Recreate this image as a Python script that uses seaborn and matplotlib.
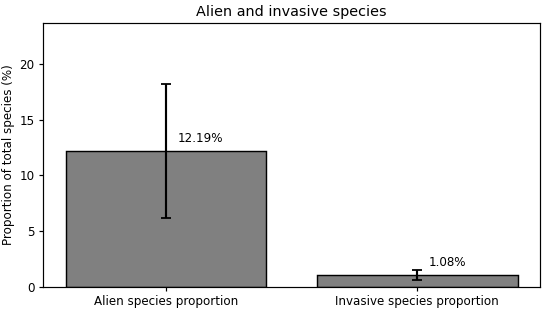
import numpy as np
import pandas as pd
import seaborn as sns
import matplotlib
matplotlib.use("Agg")
import matplotlib.pyplot as plt

# ---------------- Data ----------------
categories = ["Alien species proportion", "Invasive species proportion"]
means = [12.19, 1.08]
errors = [6.0, 0.48]

df = pd.DataFrame({"category": categories, "mean": means})

# ---------------- Plot ----------------
sns.set_style("ticks")
plt.rcParams["font.family"] = ["DejaVu Sans"]
plt.rcParams.update({
    "text.color": "black",
    "axes.labelcolor": "black",
    "xtick.color": "black",
    "ytick.color": "black",
})

fig = plt.figure(figsize=(6.4, 3.62), dpi=550 / 6.4)
ax = fig.add_axes([0.078, 0.077, 0.904, 0.849])

sns.barplot(data=df, x="category", y="mean", color="gray",
            saturation=1, edgecolor="black", linewidth=1.2,
            errorbar=None, width=0.8, ax=ax)
ax.errorbar(np.arange(len(means)), means, yerr=errors, fmt="none",
            ecolor="black", elinewidth=1.8, capsize=4, capthick=1.5)

for i, v in enumerate(means):
    ax.text(i + 0.045, v + 0.5, f"{v:.2f}%", ha="left", va="bottom",
            fontsize=10, color="black")

ax.set_xlim(-0.49, 1.49)
ax.set_ylim(0, (means[0] + errors[0]) * 1.3)
ax.set_yticks([0, 5, 10, 15, 20])
ax.set_xlabel("")
ax.set_ylabel("Proportion of total species (%)", fontsize=10)
ax.set_title("Alien and invasive species", fontsize=12, color="black")
ax.tick_params(labelsize=10, width=1, colors="black")
for s in ax.spines.values():
    s.set_visible(True)
    s.set_color("black")
    s.set_linewidth(1)

fig.savefig("out.png", dpi=550 / 6.4)
plt.close()
